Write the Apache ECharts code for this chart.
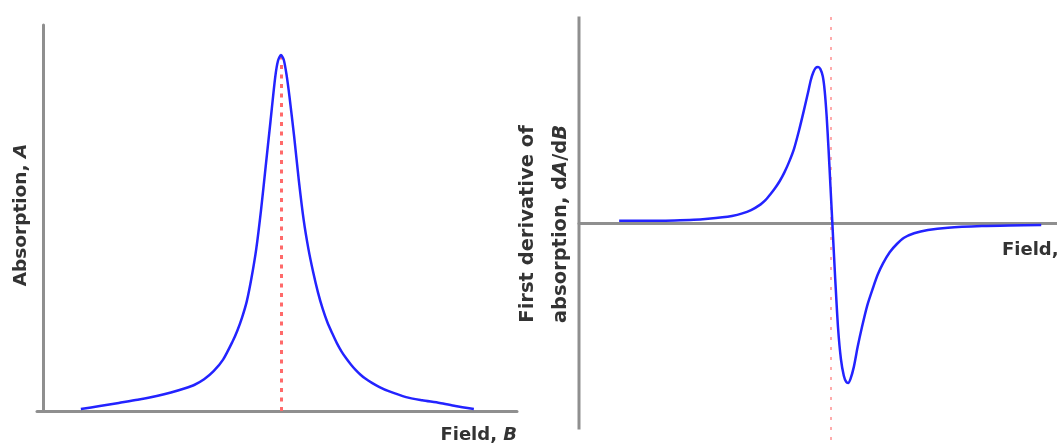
<!DOCTYPE html>
<html>
<head>
<meta charset="utf-8">
<script src="https://cdn.jsdelivr.net/npm/echarts@6/dist/echarts.min.js"></script>
<style>
html,body{margin:0;padding:0;background:#fff;}
#chart{width:1057px;height:444px;}
</style>
</head>
<body>
<div id="chart"></div>
<script>
// Left panel: absorption A vs field B (arbitrary units)
const leftField = [8, 12, 16, 20, 24, 27, 30, 32, 34, 36, 38, 40, 41, 42, 43, 44, 45, 46, 47, 48, 49, 49.6, 50.2, 50.8, 51.4, 52, 53, 54, 55, 56, 57, 58, 59, 60, 61, 62, 63, 64, 65, 66, 67, 68, 69.4, 71, 72.8, 76.6, 80, 83.7, 87, 90.9];
const leftAbsorption = [0.5, 1.3, 2.1, 2.9, 3.9, 4.8, 5.9, 6.8, 8.2, 10.3, 13.3, 18.0, 20.8, 24.2, 28.4, 34.5, 42.0, 52.0, 63.5, 75.0, 86.5, 90.8, 92.2, 91.0, 87.0, 81.5, 71.0, 59.5, 49.5, 42.0, 36.0, 30.8, 26.5, 23.0, 20.2, 17.6, 15.4, 13.6, 12.0, 10.6, 9.4, 8.4, 7.3, 6.2, 5.2, 3.6, 2.8, 2.1, 1.3, 0.5];
const leftCentre = 50.2;
const leftPeak = 92.2;

// Right panel: first derivative dA/dB vs field B (arbitrary units)
const rightField = [8.4, 14, 20, 24, 27, 30, 32, 34, 36, 38, 39, 40, 41, 42, 43, 44, 45, 46, 47, 48, 48.5, 49, 49.5, 50, 50.5, 51, 51.4, 51.8, 52.2, 52.6, 53.0, 53.6, 54.2, 54.8, 55.4, 55.9, 56.3, 56.8, 57.5, 58.3, 59.2, 60.3, 61.5, 62.5, 63.6, 65, 66.5, 68, 70.1, 73, 77.2, 84.3, 90, 96.7];
const rightDeriv = [1.0, 1.0, 1.2, 1.5, 2.0, 2.7, 3.4, 4.5, 6.2, 9.0, 11.0, 13.8, 16.8, 20.3, 24.6, 29.8, 36.0, 44.5, 54.0, 64.0, 69.2, 72.8, 75.0, 75.5, 74.5, 71.0, 64.0, 52.0, 36.0, 18.0, 0, -27, -51, -66, -74, -77, -77.5, -75.5, -69.7, -60, -50.4, -40.0, -31.5, -25.0, -19.6, -14.2, -10.2, -7.2, -5.0, -3.4, -2.3, -1.5, -1.2, -1.0];
const rightCentre = 52.7;
const rightAxisSpan = [-100, 100];

const leftData = leftField.map((x, i) => [x, leftAbsorption[i]]);
const rightData = rightField.map((x, i) => [x, rightDeriv[i]]);

const axisGray = '#8f8f8f';
const blue = '#2323ff';
const txt = '#333';
const font = 'DejaVu Sans';

const chart = echarts.init(document.getElementById('chart'));
const hidden = {axisTick:{show:false}, axisLabel:{show:false}, splitLine:{show:false}};

chart.setOption({
  animation: false,
  grid: [
    {left: 37, top: 25, width: 480, height: 386},
    {left: 579, top: 10, width: 478, height: 430}
  ],
  xAxis: [
    Object.assign({type:'value', gridIndex:0, min:-1.25, max:100,
      axisLine:{show:true, onZero:true, lineStyle:{color:axisGray, width:3}}}, hidden),
    Object.assign({type:'value', gridIndex:1, min:0, max:100,
      axisLine:{show:true, onZero:true, lineStyle:{color:axisGray, width:3}}}, hidden)
  ],
  yAxis: [
    Object.assign({type:'value', gridIndex:0, min:0, max:100,
      axisLine:{show:true, onZero:true, lineStyle:{color:axisGray, width:3}}}, hidden),
    Object.assign({type:'value', gridIndex:1, min:-105.1, max:103.1,
      axisLine:{show:false}}, hidden)
  ],
  series: [
    {
      type:'line', xAxisIndex:1, yAxisIndex:1, data: rightAxisSpan.map(v => [0, v]),
      showSymbol:false, lineStyle:{color:axisGray, width:3}, silent:true, z:1
    },
    {
      type:'line', xAxisIndex:0, yAxisIndex:0, data:leftData, smooth:0.25,
      showSymbol:false, lineStyle:{color:blue, width:2.5}, z:3,
      markLine:{
        silent:true, symbol:['none','none'], label:{show:false}, z:2,
        lineStyle:{color:'#ff6a6a', width:3, type:[4,5.5]},
        data:[[{coord:[leftCentre, 0]}, {coord:[leftCentre, leftPeak]}]]
      }
    },
    {
      type:'line', xAxisIndex:1, yAxisIndex:1, data:rightData, smooth:0.25,
      showSymbol:false, lineStyle:{color:blue, width:2.5}, z:3,
      markLine:{
        silent:true, symbol:['none','none'], label:{show:false}, z:2,
        lineStyle:{color:'#ff9090', width:1.5, type:[3,7]},
        data:[{xAxis: rightCentre}]
      }
    }
  ],
  graphic: [
    {type:'text', x:21, y:215, rotation:Math.PI/2,
      style:{text:'Absorption, {i|A}', font:'bold 18.5px "'+font+'"', fill:txt, align:'center', verticalAlign:'middle',
        rich:{i:{fontStyle:'italic', fontWeight:'bold', fontSize:18.5, fontFamily:font, fill:txt}}}},
    {type:'text', x:517, y:435,
      style:{text:'Field, {i|B}', font:'bold 18px "'+font+'"', fill:txt, align:'right', verticalAlign:'middle',
        rich:{i:{fontStyle:'italic', fontWeight:'bold', fontSize:18, fontFamily:font, fill:txt}}}},
    {type:'text', x:528, y:224, rotation:Math.PI/2,
      style:{text:'First derivative of', font:'bold 19.5px "'+font+'"', fill:txt, align:'center', verticalAlign:'middle'}},
    {type:'text', x:561, y:224, rotation:Math.PI/2,
      style:{text:'absorption, d{i|A}/d{i|B}', font:'bold 19.5px "'+font+'"', fill:txt, align:'center', verticalAlign:'middle',
        rich:{i:{fontStyle:'italic', fontWeight:'bold', fontSize:19.5, fontFamily:font, fill:txt}}}},
    {type:'text', x:1002, y:250,
      style:{text:'Field, {i|B}', font:'bold 18px "'+font+'"', fill:txt, align:'left', verticalAlign:'middle',
        rich:{i:{fontStyle:'italic', fontWeight:'bold', fontSize:18, fontFamily:font, fill:txt}}}}
  ]
});
</script>
</body>
</html>
